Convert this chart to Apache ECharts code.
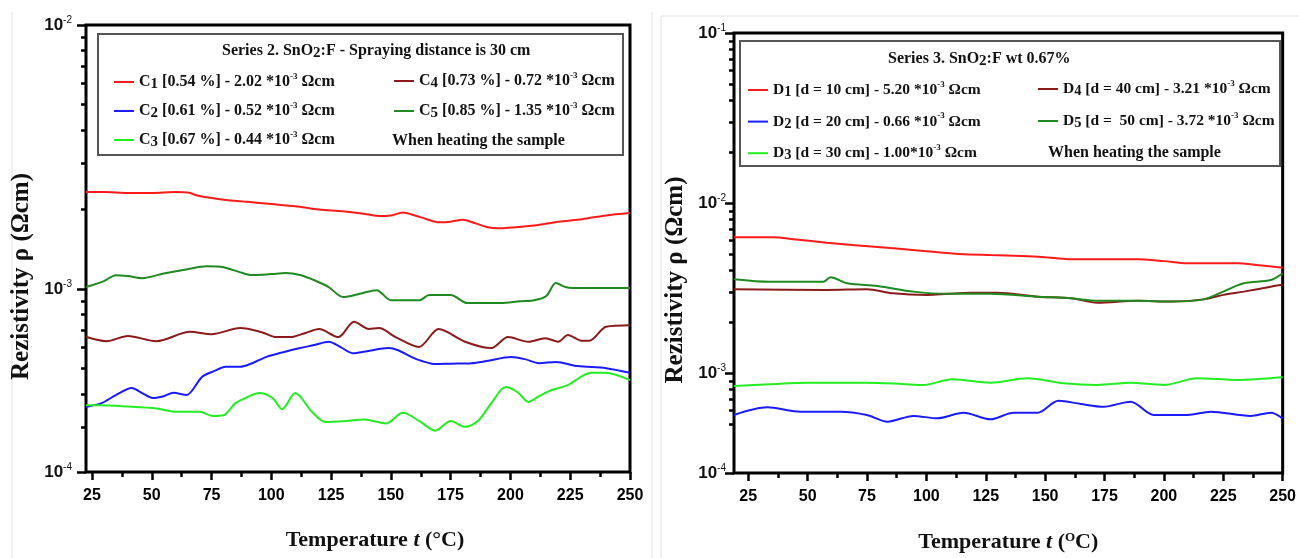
<!DOCTYPE html>
<html>
<head>
<meta charset="utf-8">
<script src="https://cdn.jsdelivr.net/npm/echarts@6/dist/echarts.min.js"></script>
<style>
  html, body { margin: 0; padding: 0; background: #fff; }
  #chart { width: 1299px; height: 558px; }
</style>
</head>
<body>
<div id="chart"></div>
<script>
// ---- Series 2 (left panel): [temperature °C, resistivity Ω·cm] ----
const c1 = [[22.5,2.33e-3],[30,2.33e-3],[40,2.31e-3],[50,2.31e-3],[60,2.33e-3],[65,2.32e-3],[70,2.25e-3],[80,2.18e-3],
  [90,2.14e-3],[100,2.10e-3],[110,2.06e-3],[120,2.00e-3],[130,1.97e-3],[140,1.92e-3],[145,1.89e-3],[150,1.90e-3],
  [155,1.95e-3],[160,1.90e-3],[165,1.84e-3],[170,1.79e-3],[175,1.80e-3],[180,1.83e-3],[185,1.78e-3],[190,1.72e-3],
  [195,1.70e-3],[200,1.71e-3],[210,1.74e-3],[220,1.80e-3],[230,1.84e-3],[240,1.90e-3],[250,1.94e-3]];
const c2 = [[22.5,3.58e-4],[29,3.70e-4],[35,3.97e-4],[41.6,4.22e-4],[46,4.04e-4],[50.5,3.87e-4],[55,3.93e-4],[59,4.05e-4],
  [64.5,3.97e-4],[71,4.65e-4],[76,4.89e-4],[81,5.08e-4],[87,5.08e-4],[92,5.24e-4],[98,5.54e-4],[105,5.77e-4],
  [112,5.98e-4],[118,6.14e-4],[124,6.32e-4],[129,6.03e-4],[134,5.72e-4],[140,5.82e-4],[149,5.98e-4],[153,5.87e-4],
  [158.7,5.53e-4],[163,5.34e-4],[168.6,5.20e-4],[175,5.22e-4],[183.7,5.24e-4],[190,5.34e-4],[200.4,5.53e-4],
  [206,5.43e-4],[212,5.24e-4],[219,5.30e-4],[228,5.11e-4],[240,5.02e-4],[250,4.82e-4]];
const c3 = [[22.5,3.63e-4],[28,3.63e-4],[40,3.59e-4],[52,3.53e-4],[60,3.43e-4],[70,3.43e-4],[75.5,3.31e-4],[80,3.33e-4],
  [85,3.70e-4],[90,3.90e-4],[95,4.04e-4],[100.5,3.87e-4],[104.5,3.51e-4],[110,4.04e-4],[117,3.43e-4],[122.6,3.14e-4],
  [130,3.16e-4],[139,3.21e-4],[148,3.10e-4],[155,3.40e-4],[162,3.16e-4],[168.6,2.91e-4],[175,3.17e-4],[181,3.01e-4],
  [186.7,3.19e-4],[192,3.70e-4],[198,4.26e-4],[203,4.07e-4],[207.5,3.74e-4],[212,3.93e-4],[217,4.14e-4],[224,4.33e-4],
  [233.7,4.82e-4],[239.6,4.82e-4],[250,4.52e-4]];
const c4 = [[22.5,6.60e-4],[31,6.35e-4],[40,6.64e-4],[52,6.35e-4],[66,6.89e-4],[75,6.75e-4],[87,7.12e-4],[96,6.87e-4],
  [102,6.58e-4],[108,6.58e-4],[114,6.81e-4],[120,7.06e-4],[128,6.58e-4],[134.6,7.52e-4],[140.8,7.06e-4],[145,7.12e-4],
  [152,6.58e-4],[161.7,6.04e-4],[170,7.06e-4],[181,6.32e-4],[192,5.98e-4],[199,6.58e-4],[207.5,6.32e-4],[214.6,6.52e-4],
  [220,6.32e-4],[224,6.70e-4],[230,6.37e-4],[233,6.37e-4],[240,7.20e-4],[250,7.30e-4]];
const c5 = [[22.5,1.018e-3],[30,1.072e-3],[35,1.129e-3],[40,1.12e-3],[46,1.10e-3],[55,1.146e-3],[65,1.19e-3],[73,1.22e-3],
  [80,1.21e-3],[88,1.15e-3],[92,1.13e-3],[100,1.14e-3],[106,1.15e-3],[112,1.13e-3],[118,1.08e-3],[124,1.018e-3],
  [130,0.933e-3],[137,0.96e-3],[144,0.991e-3],[150,0.908e-3],[155,0.908e-3],[162,0.908e-3],[166,0.949e-3],[175,0.949e-3],
  [182,0.885e-3],[190,0.885e-3],[196,0.885e-3],[204,0.90e-3],[210,0.908e-3],[215,0.942e-3],[219,1.055e-3],[223,1.018e-3],
  [226,1.01e-3],[235,1.01e-3],[250,1.01e-3]];

// ---- Series 3 (right panel) ----
const d1 = [[19,6.28e-3],[35,6.28e-3],[45,6.10e-3],[58,5.84e-3],[70,5.65e-3],[86,5.41e-3],[100,5.20e-3],[114,5.01e-3],
  [127,4.94e-3],[140,4.88e-3],[150,4.80e-3],[160,4.67e-3],[175,4.67e-3],[189,4.67e-3],[200,4.55e-3],[210,4.42e-3],
  [231,4.42e-3],[240,4.30e-3],[250,4.16e-3]];
const d2 = [[19,5.66e-4],[33,6.28e-4],[47,5.92e-4],[63.8,5.92e-4],[75,5.66e-4],[83.6,5.17e-4],[94.5,5.59e-4],[104.6,5.41e-4],
  [115.6,5.84e-4],[127,5.34e-4],[136.7,5.84e-4],[146.8,5.84e-4],[155.6,6.87e-4],[165,6.57e-4],[174.6,6.33e-4],[186,6.78e-4],
  [195.7,5.66e-4],[210,5.66e-4],[219.7,5.92e-4],[236.5,5.59e-4],[245,5.84e-4],[250,5.41e-4]];
const d3 = [[19,8.38e-4],[34,8.58e-4],[50,8.77e-4],[75,8.77e-4],[90,8.62e-4],[98.7,8.50e-4],[111,9.18e-4],[127,8.77e-4],
  [142.6,9.31e-4],[157.7,8.70e-4],[172,8.50e-4],[186,8.77e-4],[200,8.50e-4],[214,9.31e-4],[231,9.10e-4],[250,9.43e-4]];
const d4 = [[19,3.11e-3],[58,3.08e-3],[75,3.11e-3],[86,2.94e-3],[100.4,2.88e-3],[109,2.92e-3],[118.5,2.96e-3],[130,2.96e-3],
  [147,2.81e-3],[161,2.75e-3],[172,2.59e-3],[189,2.66e-3],[203,2.63e-3],[216.7,2.71e-3],[225,2.88e-3],[233.6,3.01e-3],
  [245,3.22e-3],[250,3.30e-3]];
const d5 = [[19,3.56e-3],[34,3.44e-3],[45,3.44e-3],[56.6,3.44e-3],[59.6,3.66e-3],[66.7,3.37e-3],[79.4,3.25e-3],[94.5,3.01e-3],
  [109,2.92e-3],[127,2.92e-3],[147,2.81e-3],[161,2.75e-3],[172,2.66e-3],[189,2.66e-3],[203,2.63e-3],[216.7,2.71e-3],
  [225,3.01e-3],[233.6,3.37e-3],[245,3.52e-3],[250,3.86e-3]];

// axis ranges and ticks
const leftXMin = 22.5, rightXMin = 19, xMax = 250;
const leftYMin = 2.03e-4, rightYMin = 2.58e-4;
const leftYMax = 1e-2, rightYMax = 1e-1;
const xMajor = [25, 50, 75, 100, 125, 150, 175, 200, 225, 250];
const xMinor = [37.5, 62.5, 87.5, 112.5, 137.5, 162.5, 187.5, 212.5, 237.5];
const leftYMinor = [3e-4, 4e-4, 5e-4, 6e-4, 7e-4, 8e-4, 9e-4, 2e-3, 3e-3, 4e-3, 5e-3, 6e-3, 7e-3, 8e-3, 9e-3];
const rightYMinor = [5e-4, 6e-4, 7e-4, 8e-4, 9e-4, 2e-3, 3e-3, 4e-3, 5e-3, 6e-3, 7e-3, 8e-3, 9e-3,
  2e-2, 3e-2, 4e-2, 5e-2, 6e-2, 7e-2, 8e-2, 9e-2];

const SERIF = 'Liberation Serif';
const SANS = 'Liberation Sans';

function lab(letter, idx, body) {
  return '{n|' + letter + '}{sub|' + idx + '}{n| ' + body + '10}{sup|-3}{n| Ωcm}';
}
const legendText = {
  C1: lab('C', 1, '[0.54 %] - 2.02 *'),
  C2: lab('C', 2, '[0.61 %] - 0.52 *'),
  C3: lab('C', 3, '[0.67 %] - 0.44 *'),
  C4: lab('C', 4, '[0.73 %] - 0.72 *'),
  C5: lab('C', 5, '[0.85 %] - 1.35 *'),
  D1: lab('D', 1, '[d = 10 cm] - 5.20 *'),
  D2: lab('D', 2, '[d = 20 cm] - 0.66 *'),
  D3: lab('D', 3, '[d = 30 cm] - 1.00*'),
  D4: lab('D', 4, '[d = 40 cm] - 3.21 *'),
  D5: lab('D', 5, '[d =  50 cm] - 3.72 *')
};

function rich(size) {
  return {
    n: { fontFamily: SERIF, fontWeight: 'bold', fontSize: size, color: '#111', lineHeight: 20 },
    sub: { fontFamily: SERIF, fontWeight: 'bold', fontSize: size - 1, color: '#111', lineHeight: 12, verticalAlign: 'bottom' },
    sup: { fontFamily: SERIF, fontWeight: 'bold', fontSize: 9, color: '#111', lineHeight: 10, verticalAlign: 'top' }
  };
}

function legend(names, left, top, gap, size) {
  return {
    data: names, left: left, top: top, orient: 'vertical', padding: 0, itemGap: gap,
    icon: 'rect', itemWidth: 20, itemHeight: 2, selectedMode: false,
    formatter: name => legendText[name],
    textStyle: { rich: rich(size) }
  };
}

function line(name, data, color, ax) {
  return {
    name: name, type: 'line', data: data, xAxisIndex: ax, yAxisIndex: ax,
    symbol: 'none', smooth: 0.3, clip: true,
    lineStyle: { color: color, width: 2 }, itemStyle: { color: color }
  };
}

function expLabel(v) {
  return '{b|10}{s|' + Math.floor(Math.log10(v) + 1e-6) + '}';
}

function xAxes(grid, min, nameText, gap, pad, nameRich) {
  return [{
    gridIndex: grid, type: 'value', min: min, max: xMax, position: 'bottom',
    axisLine: { show: false }, splitLine: { show: false },
    axisTick: { customValues: xMajor, length: 8, lineStyle: { color: '#000', width: 2.5 } },
    axisLabel: { customValues: xMajor, margin: 16, color: '#000', fontFamily: SANS, fontWeight: 'bold', fontSize: 16 },
    name: nameText, nameLocation: 'middle', nameGap: gap,
    nameTextStyle: { fontFamily: SERIF, fontWeight: 'bold', fontSize: 22, color: '#111', padding: pad, rich: nameRich }
  }, {
    gridIndex: grid, type: 'value', min: min, max: xMax, position: 'bottom',
    axisLine: { show: false }, splitLine: { show: false }, axisLabel: { show: false },
    axisTick: { customValues: xMinor, length: 5, lineStyle: { color: '#000', width: 2.5 } }
  }];
}

function yAxes(grid, min, max, minor, margin, gap, pad) {
  const major = [min];
  for (let v = 1e-3; v <= max * 1.0001; v *= 10) major.push(v);
  return [{
    gridIndex: grid, type: 'log', logBase: 10, min: min, max: max, position: 'left',
    axisLine: { show: false }, splitLine: { show: false },
    axisTick: { customValues: major, length: 9, lineStyle: { color: '#000', width: 2.5 } },
    axisLabel: {
      customValues: major, margin: margin, formatter: expLabel,
      rich: {
        b: { fontFamily: SANS, fontWeight: 'bold', fontSize: 17, color: '#111', lineHeight: 20 },
        s: { fontFamily: SANS, fontSize: 10, color: '#111', lineHeight: 10, verticalAlign: 'top' }
      }
    },
    name: 'Rezistivity ρ (Ωcm)', nameLocation: 'middle', nameGap: gap,
    nameTextStyle: { fontFamily: SERIF, fontWeight: 'bold', fontSize: 25, color: '#111', padding: pad }
  }, {
    gridIndex: grid, type: 'log', logBase: 10, min: min, max: max, position: 'left',
    axisLine: { show: false }, splitLine: { show: false }, axisLabel: { show: false },
    axisTick: { customValues: minor, length: 5, lineStyle: { color: '#000', width: 2.5 } }
  }];
}

function boxText(x, y, text, size) {
  return {
    type: 'text', x: x, y: y, silent: true,
    style: { text: text, rich: rich(size), fontFamily: SERIF, fontWeight: 'bold', fontSize: size, fill: '#111', verticalAlign: 'middle' }
  };
}

const chart = echarts.init(document.getElementById('chart'), null, { renderer: 'canvas' });

const italicT = { fontFamily: SERIF, fontWeight: 'bold', fontStyle: 'italic', fontSize: 22, color: '#111' };

const option = {
  backgroundColor: '#fff',
  animation: false,
  grid: [
    { left: 86, top: 25, width: 544, height: 447, show: true, borderColor: '#000', borderWidth: 3 },
    { left: 734, top: 33, width: 549, height: 440, show: true, borderColor: '#000', borderWidth: 3 }
  ],
  xAxis: [].concat(
    xAxes(0, leftXMin, 'Temperature {i|t} (°C)', 57, [0, 0, 0, 34], { i: italicT }),
    xAxes(1, rightXMin, 'Temperature {i|t} ({o|O}C)', 58, 0,
      { i: italicT, o: { fontFamily: SERIF, fontWeight: 'bold', fontSize: 13, color: '#111', lineHeight: 12, verticalAlign: 'top' } })
  ),
  yAxis: [].concat(
    yAxes(0, leftYMin, leftYMax, leftYMinor, 14, 52, [0, 56, 0, 0]),
    yAxes(1, rightYMin, rightYMax, rightYMinor, 8, 46, [0, 54, 0, 0])
  ),
  legend: [
    legend(['C1', 'C2', 'C3'], 114, 72, 9, 16),
    legend(['C4', 'C5'], 394, 71, 10, 16),
    legend(['D1', 'D2', 'D3'], 748, 80, 11.6, 15.5),
    legend(['D4', 'D5'], 1038, 79, 12, 15.5)
  ],
  series: [
    line('C1', c1, '#ff1a1a', 0),
    line('C2', c2, '#1a1aff', 0),
    line('C3', c3, '#22ee22', 0),
    line('C4', c4, '#8b1a1a', 0),
    line('C5', c5, '#1f8a1f', 0),
    line('D1', d1, '#ff1a1a', 2),
    line('D2', d2, '#1a1aff', 2),
    line('D3', d3, '#22ee22', 2),
    line('D4', d4, '#8b1a1a', 2),
    line('D5', d5, '#1f8a1f', 2)
  ],
  graphic: [
    // faint frame lines of the two figure parts
    { type: 'line', silent: true, shape: { x1: 12, y1: 12, x2: 12, y2: 558 }, style: { stroke: '#e2e2e2', lineWidth: 1 } },
    { type: 'line', silent: true, shape: { x1: 652, y1: 12, x2: 652, y2: 558 }, style: { stroke: '#e2e2e2', lineWidth: 1 } },
    { type: 'line', silent: true, shape: { x1: 661, y1: 16, x2: 1299, y2: 16 }, style: { stroke: '#e2e2e2', lineWidth: 1 } },
    { type: 'line', silent: true, shape: { x1: 661, y1: 16, x2: 661, y2: 558 }, style: { stroke: '#e2e2e2', lineWidth: 1 } },
    // legend boxes
    { type: 'rect', silent: true, z: 50, shape: { x: 98, y: 34, width: 525, height: 121 }, style: { fill: 'none', stroke: '#555', lineWidth: 2 } },
    { type: 'rect', silent: true, z: 50, shape: { x: 740, y: 41, width: 540, height: 125 }, style: { fill: 'none', stroke: '#555', lineWidth: 2 } },
    boxText(222, 51, '{n|Series 2. SnO}{sub|2}{n|:F - Spraying distance is 30 cm}', 16),
    boxText(392, 141, '{n|When heating the sample}', 16),
    boxText(888, 59, '{n|Series 3. SnO}{sub|2}{n|:F wt 0.67%}', 16),
    boxText(1048, 153, '{n|When heating the sample}', 16)
  ]
};

chart.setOption(option);
</script>
</body>
</html>
